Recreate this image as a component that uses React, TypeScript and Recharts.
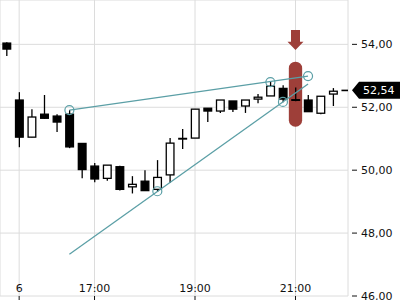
import React from 'react';
import {
    ComposedChart,
    Bar,
    XAxis,
    YAxis,
    CartesianGrid,
    ReferenceLine,
    ReferenceDot,
    ReferenceArea,
} from 'recharts';

// 15-minute candles, first one is the previous session's last bar
const times = [
    '21:45', '15:30', '15:45', '16:00', '16:15', '16:30', '16:45', '17:00',
    '17:15', '17:30', '17:45', '18:00', '18:15', '18:30', '18:45', '19:00',
    '19:15', '19:30', '19:45', '20:00', '20:15', '20:30', '20:45', '21:00',
    '21:15', '21:30', '21:45', '22:00',
];
const opens = [
    54.04, 52.23, 51.05, 51.78, 51.72, 51.78, 50.85, 50.13, 49.74, 50.11, 49.47, 49.65, 49.39, 49.85,
    50.99, 51.02, 51.97, 51.88, 52.2, 52.04, 52.26, 52.36, 52.6, 52.24, 52.23, 51.81, 52.42, 52.54,
];
const highs = [
    54.07, 52.48, 51.94, 52.39, 51.78, 51.91, 50.85, 50.23, 50.16, 50.14, 49.81, 50.0, 50.32, 51.02,
    51.31, 51.94, 51.97, 52.23, 52.2, 52.23, 52.42, 52.81, 52.7, 52.63, 52.39, 52.35, 52.61, 52.54,
];
const lows = [
    53.63, 50.73, 51.05, 51.63, 51.21, 50.7, 49.74, 49.62, 49.66, 49.35, 49.26, 49.35, 49.31, 49.59,
    50.67, 51.02, 51.53, 51.82, 51.85, 51.82, 52.13, 52.36, 52.16, 52.19, 51.86, 51.78, 52.04, 52.54,
];
const closes = [
    53.85, 51.05, 51.69, 51.65, 51.53, 50.74, 50.02, 49.72, 50.16, 49.39, 49.55, 49.35, 49.77, 50.86,
    51.01, 51.94, 51.88, 52.23, 51.94, 52.23, 52.32, 52.67, 52.26, 52.22, 51.86, 52.35, 52.51, 52.54,
];

// x ticks: candle index + label
const tickIndex = [1, 7, 15, 23];
const tickLabels = ['6', '17:00', '19:00', '21:00'];
const priceTicks = [46, 48, 50, 52, 54];

// drawings
const upperLine = [{ x: 5, y: 51.91 }, { x: 24, y: 52.99 }];
const upperDots = [{ x: 5, y: 51.91 }, { x: 21, y: 52.8 }, { x: 24, y: 52.99 }];
const lowerLine = [{ x: 5, y: 47.33 }, { x: 24, y: 52.74 }];
const lowerDots = [{ x: 12, y: 49.33 }, { x: 22, y: 52.17 }];
const markerIndex = 23;
const markerRange = [51.38, 53.45];
const arrowTip = 53.82;
const lastPrice = 52.54;

const data = times.map((t, i) => ({
    i,
    time: t,
    open: opens[i],
    high: highs[i],
    low: lows[i],
    close: closes[i],
}));

const TEAL = '#5b9fa6';
const RED = '#9e3f39';
const FONT = 'DejaVu Sans';

const Candle = (props: any) => {
    const { x, y, width, height, payload } = props;
    const top = Math.min(y, y + height);
    const h = Math.abs(height);
    const { open, close, high, low } = payload;
    const span = high - low;
    const toPx = (v: number) => (span > 0 ? top + ((high - v) / span) * h : top);
    const bTop = toPx(Math.max(open, close));
    const bBot = toPx(Math.min(open, close));
    const cx = x + width / 2;
    const up = close >= open;
    return (
        <g>
            <line x1={cx} x2={cx} y1={top} y2={top + h} stroke="#000" strokeWidth={1.3} />
            <rect
                x={x + 0.65}
                y={bTop}
                width={width - 1.3}
                height={Math.max(bBot - bTop, 0.3)}
                fill={up ? '#fff' : '#000'}
                stroke="#000"
                strokeWidth={1.3}
            />
        </g>
    );
};

const PriceTick = (props: any) => {
    const { x, y, payload } = props;
    return (
        <g>
            <line x1={x + 4} x2={x + 9} y1={y} y2={y} stroke="#111" strokeWidth={1} />
            <text x={x + 13} y={y} dy="0.36em" fontSize={11} fontFamily={FONT} fill="#111">
                {payload.value.toFixed(2).replace('.', ',')}
            </text>
        </g>
    );
};

const TimeTick = (props: any) => {
    const { x, y, payload } = props;
    const label = tickLabels[tickIndex.indexOf(payload.value)];
    return (
        <g>
            <line x1={x} x2={x} y1={y} y2={y + 5} stroke="#111" strokeWidth={1} />
            <text x={x} y={y - 4.5} textAnchor="middle" fontSize={11} fontFamily={FONT} fill="#111">
                {label}
            </text>
        </g>
    );
};

const PriceBadge = (props: any) => {
    const { viewBox } = props;
    const tip = viewBox.x + viewBox.width + 4;
    const yc = viewBox.y;
    return (
        <g>
            <path
                d={`M${tip},${yc} L${tip + 7},${yc - 8.5} H402 V${yc + 8.5} H${tip + 7} Z`}
                fill="#000"
            />
            <text x={tip + 11} y={yc} dy="0.36em" fontSize={11} fontFamily={FONT} fill="#fff">
                {lastPrice.toFixed(2).replace('.', ',')}
            </text>
        </g>
    );
};

const Arrow = (props: any) => {
    const { cx, cy } = props;
    return (
        <path
            d={`M${cx - 4.5},${cy - 20} H${cx + 4.5} V${cy - 8.3} H${cx + 8} L${cx},${cy} L${cx - 8},${cy - 8.3} H${cx - 4.5} Z`}
            fill={RED}
        />
    );
};

export default function App() {
    return (
        <div style={{ position: 'absolute', left: 0, top: 0, width: 400, height: 300 }}>
            <ComposedChart
                width={400}
                height={300}
                data={data}
                margin={{ top: 0, right: 0, bottom: 0, left: 0 }}
            >
                <CartesianGrid stroke="#dcdcdc" strokeWidth={1} />
                <XAxis
                    dataKey="i"
                    type="number"
                    domain={[-0.525, 27.18]}
                    allowDataOverflow
                    ticks={tickIndex}
                    tick={<TimeTick />}
                    tickLine={false}
                    axisLine={false}
                    tickSize={0}
                    tickMargin={0}
                    height={4}
                    interval={0}
                />
                <YAxis
                    orientation="right"
                    domain={[46, 55.41]}
                    allowDataOverflow
                    ticks={priceTicks}
                    tick={<PriceTick />}
                    tickLine={false}
                    axisLine={false}
                    tickSize={0}
                    tickMargin={0}
                    width={52}
                    interval={0}
                />
                <ReferenceArea
                    x1={markerIndex - 0.53}
                    x2={markerIndex + 0.53}
                    y1={markerRange[0]}
                    y2={markerRange[1]}
                    shape={(p: any) => (
                        <rect x={p.x} y={p.y} width={p.width} height={p.height} rx={6.5} fill={RED} />
                    )}
                />
                <Bar
                    dataKey={(d: any) => [d.low, d.high]}
                    barSize={9}
                    shape={<Candle />}
                    isAnimationActive={false}
                />
                <ReferenceLine segment={upperLine} stroke={TEAL} strokeWidth={1.3} />
                <ReferenceLine segment={lowerLine} stroke={TEAL} strokeWidth={1.3} />
                {upperDots.concat(lowerDots).map((d, k) => (
                    <ReferenceDot key={k} x={d.x} y={d.y} r={4.5} fill="none" stroke={TEAL} strokeWidth={1.2} />
                ))}
                <ReferenceDot x={markerIndex} y={arrowTip} r={8} shape={<Arrow />} />
                <ReferenceLine y={lastPrice} stroke="none" label={(p: any) => <PriceBadge {...p} />} />
            </ComposedChart>
        </div>
    );
}
